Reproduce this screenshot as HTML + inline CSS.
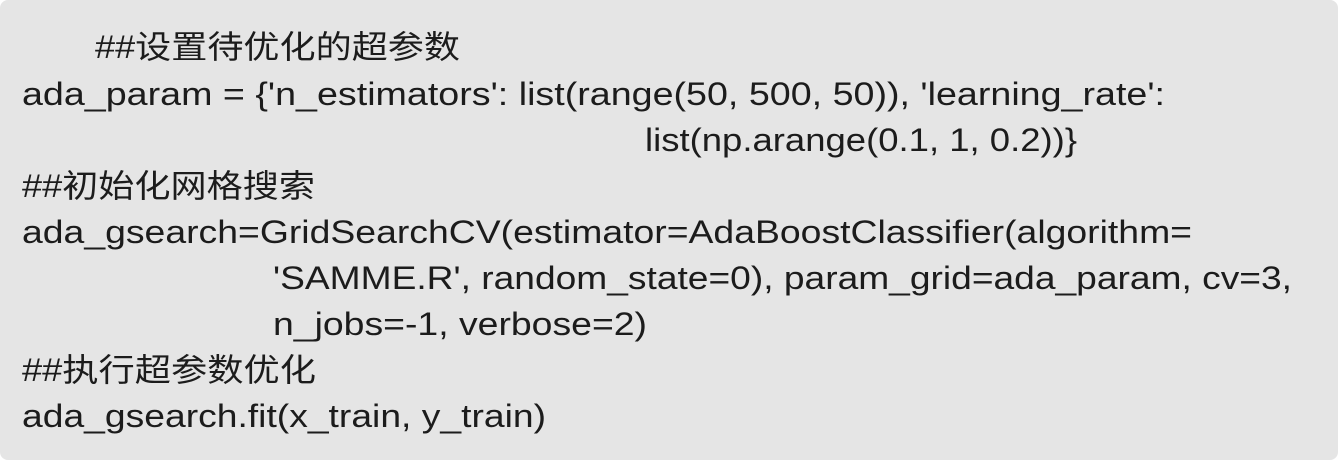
<!DOCTYPE html>
<html><head><meta charset="utf-8"><style>
html,body{margin:0;padding:0;background:#fff;}
svg{display:block;}
text{font-family:"Liberation Sans","Noto Sans CJK SC",sans-serif;font-size:32px;fill:#1c1c1c;}
</style></head><body>
<svg width="1338" height="460" xmlns="http://www.w3.org/2000/svg">
<rect x="0" y="0" width="1338" height="460" rx="8" fill="#e5e5e5"/>
<text x="95" y="58" textLength="365" lengthAdjust="spacingAndGlyphs">##设置待优化的超参数</text>
<text x="22" y="105" textLength="1143" lengthAdjust="spacingAndGlyphs">ada_param = {'n_estimators': list(range(50, 500, 50)), 'learning_rate':</text>
<text x="645" y="151" textLength="432" lengthAdjust="spacingAndGlyphs">list(np.arange(0.1, 1, 0.2))}</text>
<text x="22" y="197" textLength="293" lengthAdjust="spacingAndGlyphs">##初始化网格搜索</text>
<text x="22" y="243" textLength="1170" lengthAdjust="spacingAndGlyphs">ada_gsearch=GridSearchCV(estimator=AdaBoostClassifier(algorithm=</text>
<text x="273" y="289" textLength="1019" lengthAdjust="spacingAndGlyphs">'SAMME.R', random_state=0), param_grid=ada_param, cv=3,</text>
<text x="273" y="335" textLength="374" lengthAdjust="spacingAndGlyphs">n_jobs=-1, verbose=2)</text>
<text x="22" y="381" textLength="294" lengthAdjust="spacingAndGlyphs">##执行超参数优化</text>
<text x="22" y="427" textLength="524" lengthAdjust="spacingAndGlyphs">ada_gsearch.fit(x_train, y_train)</text>
</svg>
</body></html>
